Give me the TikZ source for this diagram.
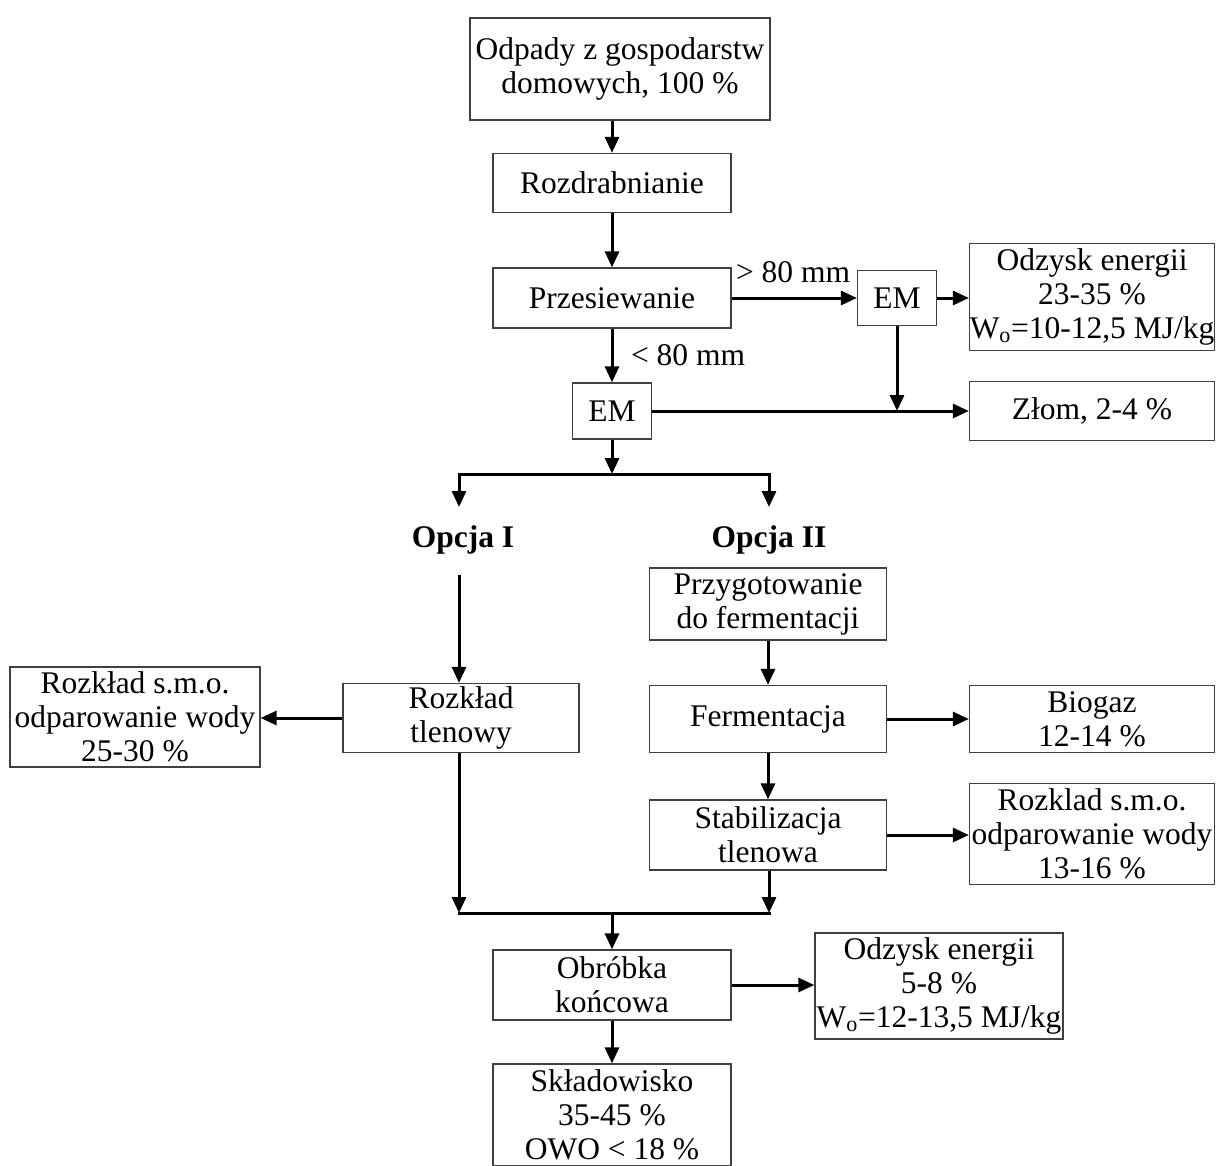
\documentclass[tikz,border=0pt]{standalone}
\usepackage{fontspec}
\setmainfont{Liberation Serif}
\usetikzlibrary{arrows.meta}
\newcommand\fsz{\fontsize{31.5}{34}\selectfont}
\tikzset{
  bx/.style={draw=black!75, line width=1.3pt, align=center, inner sep=0pt, font=\fsz},
  arr/.style={line width=3pt, -{Triangle[length=16pt,width=14pt]}},
  ln/.style={line width=3pt},
  lbl/.style={font=\fsz, inner sep=0pt}
}
\begin{document}
\begin{tikzpicture}[x=1pt,y=-1pt]
\useasboundingbox (0,0) rectangle (1217,1165);
\node[bx, minimum width=300pt, minimum height=102pt] (odp) at (620,69) {Odpady z gospodarstw\\domowych, 100 \%};
\node[bx, minimum width=238pt, minimum height=59pt] (roz) at (612,183) {Rozdrabnianie};
\node[bx, minimum width=238pt, minimum height=60pt] (prz) at (612,298) {Przesiewanie};
\node[bx, minimum width=79pt, minimum height=55pt] (emr) at (897,298) {EM};
\node[bx, minimum width=245pt, minimum height=107pt] (ode1) at (1092,297) {Odzysk energii\\23-35 \%\\W\textsubscript{o}=10-12,5 MJ/kg};
\node[bx, minimum width=79pt, minimum height=56pt] (eml) at (612,411) {EM};
\node[bx, minimum width=245pt, minimum height=59pt] (zlom) at (1092,411) {Złom, 2-4 \%};
\node[lbl, font=\fsz\bfseries] (op1) at (463,540) {Opcja I};
\node[lbl, font=\fsz\bfseries] (op2) at (769,540) {Opcja II};
\node[bx, minimum width=237pt, minimum height=72pt] (przyg) at (768,604) {Przygotowanie\\do fermentacji};
\node[bx, minimum width=236pt, minimum height=69pt] (rtl) at (461,718) {Rozkład\\tlenowy};
\node[bx, minimum width=250pt, minimum height=100pt] (lewy) at (135,717) {Rozkład s.m.o.\\odparowanie wody\\25-30 \%};
\node[bx, minimum width=237pt, minimum height=67pt] (ferm) at (768,719) {Fermentacja};
\node[bx, minimum width=245pt, minimum height=67pt] (bio) at (1092,719) {Biogaz\\12-14 \%};
\node[bx, minimum width=237pt, minimum height=70pt] (stab) at (768,835) {Stabilizacja\\tlenowa};
\node[bx, minimum width=245pt, minimum height=101pt] (rpr) at (1092,834) {Rozklad s.m.o.\\odparowanie wody\\13-16 \%};
\node[bx, minimum width=238pt, minimum height=70pt] (obr) at (612,985) {Obróbka\\końcowa};
\node[bx, minimum width=248pt, minimum height=106pt] (ode2) at (939,986) {Odzysk energii\\5-8 \%\\W\textsubscript{o}=12-13,5 MJ/kg};
\node[bx, minimum width=238pt, minimum height=102pt] (skl) at (612,1115) {Składowisko\\35-45 \%\\OWO < 18 \%};
\node[lbl] (g80) at (793,272) {> 80 mm};
\node[lbl] (l80) at (688,355) {< 80 mm};
% connectors
\draw[arr] (odp.south -| roz.north) -- (roz.north);
\draw[arr] (roz) -- (prz);
\draw[arr] (prz.east) -- (prz.east -| emr.west);
\draw[arr] (emr.east) -- (emr.east -| ode1.west);
\draw[arr] (prz) -- (eml);
\draw[arr] (eml.east) -- (eml.east -| zlom.west);
\coordinate (jz) at (emr.south |- eml.east);
\draw[arr] (emr) -- (jz);
\coordinate (jb) at (612,474);
\coordinate (jbl) at (459,474);
\coordinate (jbr) at (769,474);
\coordinate (ebl) at (459,507);
\coordinate (ebr) at (769,507);
\draw[arr] (eml) -- (jb);
\draw[ln, line cap=rect] (jbl) -- (jbr);
\draw[arr] (jbl) -- (ebl);
\draw[arr] (jbr) -- (ebr);
\coordinate (o1s) at (459,575);
\draw[arr] (o1s) -- (o1s |- rtl.north);
\draw[arr] (rtl.west) -- (rtl.west -| lewy.east);
\draw[arr] (przyg) -- (ferm);
\draw[arr] (ferm.east) -- (ferm.east -| bio.west);
\draw[arr] (ferm) -- (stab);
\draw[arr] (stab.east) -- (stab.east -| rpr.west);
\coordinate (ml) at (459,913);
\coordinate (mr) at (769,913);
\coordinate (mm) at (612,913);
\draw[arr] (rtl.south -| ml) -- (ml);
\draw[arr] (stab.south -| mr) -- (mr);
\draw[ln, line cap=rect] (ml) -- (mr);
\draw[arr] (mm) -- (obr);
\draw[arr] (obr.east) -- (obr.east -| ode2.west);
\draw[arr] (obr) -- (skl);
\end{tikzpicture}
\end{document}
